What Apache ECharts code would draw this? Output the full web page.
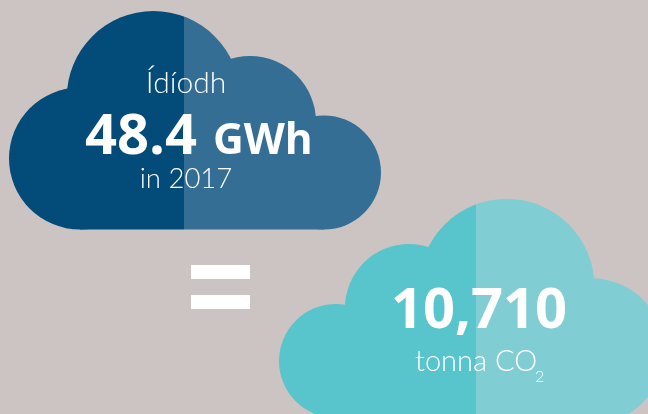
<!DOCTYPE html>
<html>
<head>
<meta charset="utf-8">
<style>
  html, body { margin: 0; padding: 0; background: #cbc4c2; }
  #chart { width: 648px; height: 414px; }
</style>
<script src="https://cdn.jsdelivr.net/npm/echarts@6/dist/echarts.min.js"></script>
</head>
<body>
<div id="chart"></div>
<script>
const usageLabel = "Ídíodh";
const usageValue = "48.4";
const usageUnit = "GWh";
const usageYear = "in 2017";
const carbonValue = "10,710";
const carbonUnit = "tonna CO";
const carbonSub = "2";

const chart = echarts.init(document.getElementById("chart"));
const BOLD = '"Open Sans", sans-serif';
const THIN = 'Lato, sans-serif';

// two tone fill, hard stop at splitX in page coordinates
function twoTone(splitX, left, right) {
  const at = splitX / 648;
  return new echarts.graphic.LinearGradient(0, 0, 648, 0, [
    { offset: 0, color: left },
    { offset: at, color: left },
    { offset: at, color: right },
    { offset: 1, color: right },
  ], true);
}

function cloud(lobes, base, fill) {
  const parts = lobes.map((c) => ({
    type: "circle",
    shape: { cx: c[0], cy: c[1], r: c[2] },
    style: { fill: fill },
  }));
  parts.push({
    type: "rect",
    shape: { x: base[0], y: base[1], width: base[2], height: base[3] },
    style: { fill: fill },
  });
  return parts;
}

// y is the text baseline, zrender anchors this text by its top
function label(text, x, y, size, weight, align) {
  const isBold = weight >= 600;
  return {
    type: "text",
    z: 10,
    style: {
      text: text,
      x: x,
      y: y - size * (isBold ? 0.77 : 0.87),
      fill: "#fff",
      font: weight + " " + size + "px " + (isBold ? BOLD : THIN),
      textAlign: align || "center",
    },
  };
}

const bigCloud = cloud(
  [[80, 158.5, 71], [153.5, 97.7, 86.7], [250, 122, 66], [324, 172.5, 57]],
  [80, 120, 244, 109.5],
  twoTone(184, "#034b78", "#346e94")
);

const smallCloud = cloud(
  [[336, 361, 57], [409, 308, 64], [506.7, 286.4, 87.7], [591.6, 351, 72.7]],
  [336, 320, 256, 98],
  twoTone(476, "#58c4cb", "#80ced3")
);

chart.setOption({
  backgroundColor: "#cbc4c2",
  animation: false,
  graphic: {
    elements: [
      ...bigCloud,
      ...smallCloud,
      { type: "rect", shape: { x: 191, y: 265, width: 59, height: 14 }, style: { fill: "#fff" } },
      { type: "rect", shape: { x: 191, y: 295, width: 59, height: 14 }, style: { fill: "#fff" } },
      label(usageLabel, 186, 94, 30, 300),
      label(usageValue, 85, 153, 56, 700, "left"),
      label(usageUnit, 213, 153, 42.5, 700, "left"),
      label(usageYear, 186, 189, 27.5, 300),
      label(carbonValue, 479, 327, 56, 700),
      label(carbonUnit, 415, 372, 29, 300, "left"),
      label(carbonSub, 535, 383, 16, 300, "left"),
    ],
  },
});
</script>
</body>
</html>
